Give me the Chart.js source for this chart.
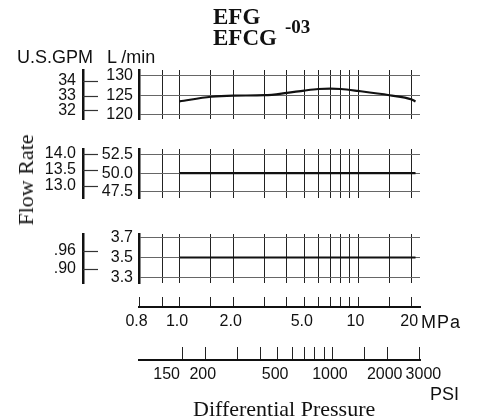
<!DOCTYPE html>
<html>
<head>
<meta charset="utf-8">
<script src="https://cdn.jsdelivr.net/npm/chart.js@4.4.1/dist/chart.umd.min.js"></script>
<style>
body { margin: 0; background: #fff; }
#wrap { position: relative; width: 480px; height: 419px; overflow: hidden; }
#wrap canvas { position: absolute; left: 0; top: 0; }
.t { position: absolute; line-height: 1; white-space: nowrap; color: #111; }
.sans { font-family: "Liberation Sans", Arial, sans-serif; font-size: 18px; }
.serif { font-family: "Liberation Serif", "Times New Roman", serif; }
</style>
</head>
<body>
<div id="wrap">
  <canvas id="p1" width="480" height="419"></canvas>
  <canvas id="p2" width="480" height="419"></canvas>
  <canvas id="p3" width="480" height="419"></canvas>
  <canvas id="mpa" width="480" height="419"></canvas>
  <canvas id="psi" width="480" height="419"></canvas>

  <div class="t serif" style="left:213px;top:4.7px;font-size:23px;font-weight:bold">EFG</div>
  <div class="t serif" style="left:213px;top:25.7px;font-size:23px;font-weight:bold">EFCG</div>
  <div class="t serif" style="left:285px;top:17.1px;font-size:19px;font-weight:bold">-03</div>
  <div class="t sans" style="left:17px;top:47.8px">U.S.GPM</div>
  <div class="t sans" style="left:107px;top:47.8px">L /min</div>
  <div class="t serif" style="left:25.5px;top:180px;font-size:22px;transform:translate(-50%,-50%) rotate(-90deg)">Flow Rate</div>
  <div class="t sans" style="left:421px;top:312.8px;letter-spacing:1px">MPa</div>
  <div class="t sans" style="left:430px;top:384.8px">PSI</div>
  <div class="t serif" style="left:193px;top:397.6px;font-size:22px">Differential Pressure</div>
</div>

<script>
// pressure (MPa) and flow (L/min)
const pressure = [1.0, 1.5, 2.0, 3.0, 4.0, 5.0, 6.0, 7.0, 8.0, 10, 15, 20, 21];
const flowTop = [123.4, 124.6, 124.9, 125.0, 125.6, 126.2, 126.6, 126.7, 126.6, 126.1, 125.0, 123.9, 123.4];
const pressureFlat = [1.0, 21];
const flowMid = [50.0, 50.0];
const flowLow = [3.5, 3.5];

// tick labels
const lminTop = ['120', '125', '130'];
const lminMid = ['47.5', '50.0', '52.5'];
const lminLow = ['3.3', '3.5', '3.7'];
const gpmTop = ['32', '33', '34'];
const gpmMid = ['13.0', '13.5', '14.0'];
const gpmLow = ['.90', '.96'];
const mpaTicks = [0.8, 1, 1.5, 2, 3, 4, 5, 6, 7, 8, 9, 10, 15, 20];
const mpaLabels = ['1.0', '2.0', '5.0', '10', '20'];
const psiTicks = [150, 200, 300, 400, 500, 600, 700, 800, 900, 1000, 1500, 2000, 3000];
const psiLabels = ['150', '200', '500', '1000', '2000', '3000'];

const X_MIN = 0.593, X_MAX = 22.25;
const PSI_MIN = 86.5, PSI_MAX = 3029;
const SANS = '"Liberation Sans", Arial, sans-serif';

// short marks on the right side of the GPM bar
const gpmMarks = {
  id: 'gpmMarks',
  afterDraw(chart) {
    const s = chart.scales.gpm;
    if (!s) return;
    const ctx = chart.ctx;
    ctx.save();
    ctx.strokeStyle = '#333';
    ctx.lineWidth = 1.2;
    s.ticks.forEach(t => {
      const y = Math.round(s.getPixelForValue(t.value)) + 0.5;
      ctx.beginPath();
      ctx.moveTo(s.right, y);
      ctx.lineTo(s.right + 15, y);
      ctx.stroke();
    });
    ctx.restore();
  }
};

function panel(id, top, bottom, yMin, yMax, gMin, gMax, yLabels, gLabels, xs, ys) {
  return new Chart(document.getElementById(id), {
    type: 'line',
    data: {
      datasets: [{
        data: xs.map((x, i) => ({ x: x, y: ys[i] })),
        borderColor: '#111',
        borderWidth: 2.2,
        pointRadius: 0,
        tension: 0.4,
        cubicInterpolationMode: 'monotone'
      }]
    },
    options: {
      responsive: false,
      animation: false,
      events: [],
      layout: { padding: { left: 0, right: 60, top: top, bottom: 419 - bottom } },
      plugins: { legend: { display: false }, tooltip: { enabled: false } },
      scales: {
        x: {
          type: 'logarithmic', min: X_MIN, max: X_MAX,
          afterBuildTicks: s => { s.ticks = mpaTicks.map(v => ({ value: v })); },
          afterFit: s => { s.height = 0; },
          ticks: { display: false },
          grid: { color: '#222', lineWidth: 1, drawTicks: false },
          border: { display: false }
        },
        y: {
          position: 'left', weight: 0, min: yMin, max: yMax,
          afterBuildTicks: s => { s.ticks = yLabels.map(l => ({ value: Number(l) })); },
          afterFit: s => { s.width = 56; },
          ticks: { padding: 6, color: '#111', font: { family: SANS, size: 16 }, callback: (v, i) => yLabels[i] },
          grid: { color: '#666', lineWidth: 1, drawTicks: false },
          border: { display: true, width: 2.5, color: '#111' }
        },
        gpm: {
          position: 'left', weight: 1, min: gMin, max: gMax,
          afterBuildTicks: s => { s.ticks = gLabels.map(l => ({ value: Number(l) })); },
          afterFit: s => { s.width = 83; },
          ticks: { padding: 7, color: '#111', font: { family: SANS, size: 16 }, callback: (v, i) => gLabels[i] },
          grid: { drawOnChartArea: false, drawTicks: false },
          border: { display: true, width: 2.5, color: '#111' }
        }
      }
    },
    plugins: [gpmMarks]
  });
}

function strip(id, top, bottom, min, max, values, labelFn) {
  return new Chart(document.getElementById(id), {
    type: 'line',
    data: { datasets: [] },
    options: {
      responsive: false,
      animation: false,
      events: [],
      layout: { padding: { left: 139, right: 60, top: top, bottom: 419 - bottom - 30 } },
      plugins: { legend: { display: false }, tooltip: { enabled: false } },
      scales: {
        x: {
          type: 'logarithmic', position: 'bottom', min: min, max: max,
          afterBuildTicks: s => { s.ticks = values.map(v => ({ value: v })); },
          afterFit: s => { s.height = 30; },
          ticks: { autoSkip: false, maxRotation: 0, padding: 5, labelOffset: -2.5, color: '#111',
                   font: { family: SANS, size: 16 }, callback: v => labelFn(v) },
          grid: { color: '#222', lineWidth: 1, drawTicks: false },
          border: { display: true, width: 2, color: '#111' }
        },
        y: { display: false, min: 0, max: 1 }
      }
    }
  });
}

panel('p1', 70, 119, 118.88, 131.49, 31.408, 34.740, lminTop, gpmTop, pressure, flowTop);
panel('p2', 149, 198.3, 46.66, 53.20, 12.616, 14.156, lminMid, gpmMid, pressureFlat, flowMid);
panel('p3', 234, 283.3, 3.2446, 3.7327, 0.8493, 1.0183, lminLow, gpmLow, pressureFlat, flowLow);

// the print puts "0.8" under the left end of the scale
strip('mpa', 297, 307, X_MIN, X_MAX, [X_MIN].concat(mpaTicks), v => {
  if (v === X_MIN) return '0.8';
  const l = v < 10 ? v.toFixed(1) : String(v);
  return mpaLabels.includes(l) ? l : '';
});
strip('psi', 347, 360, PSI_MIN, PSI_MAX, psiTicks, v => {
  const l = String(v);
  if (!psiLabels.includes(l)) return '';
  if (l === '150') return l + '      ';
  if (l === '3000') return '   ' + l;
  return l;
});
</script>
</body>
</html>
